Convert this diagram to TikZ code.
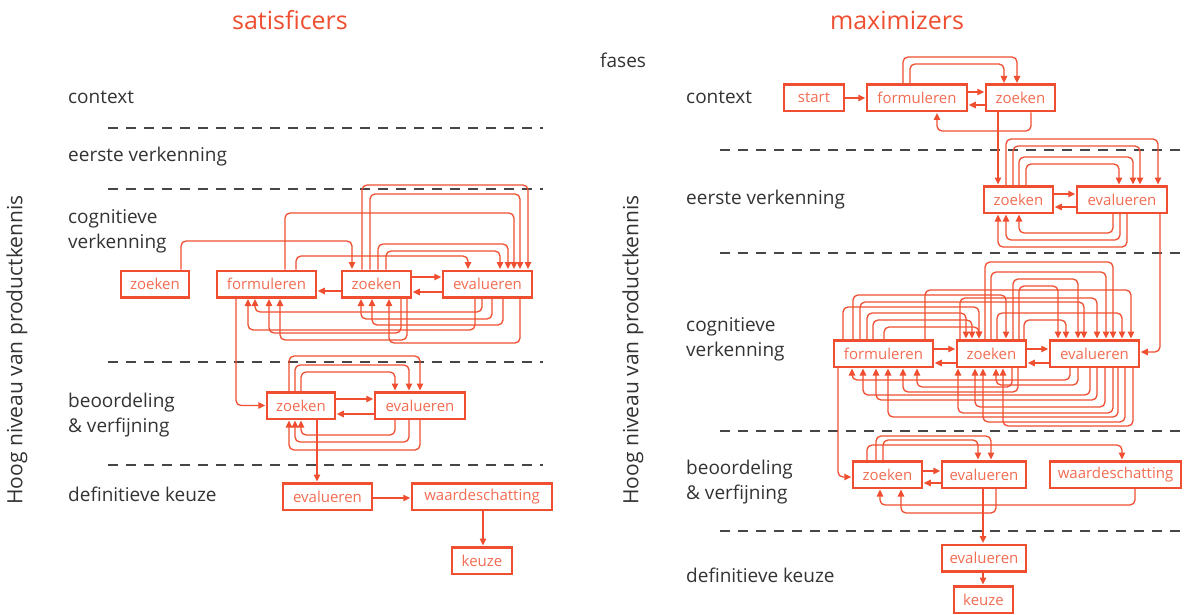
\documentclass[tikz,border=0pt]{standalone}
\usepackage{fontspec}
\setmainfont{Open Sans}
\usetikzlibrary{arrows.meta}
\definecolor{accent}{RGB}{239,78,48}
\definecolor{boxtext}{RGB}{242,108,82}
\definecolor{ink}{RGB}{51,51,51}
\definecolor{rulegrey}{RGB}{70,70,70}

% loop leaving the top (or bottom) of one box at x=#2, running at level #3,
% and entering the top (or bottom) of another box at x=#5
\newcommand\uploop[5]{\draw[link] (#2,0 |- #1.north) -- (#2,#3) -| (#5,0 |- #4.north);}
\newcommand\downloop[5]{\draw[link] (#2,0 |- #1.south) -- (#2,#3) -| (#5,0 |- #4.south);}

\tikzset{
  box/.style={draw=accent, line width=2.5pt, text=boxtext, minimum height=26.5pt,
    inner sep=0pt, font=\fontsize{15}{17}\selectfont},
  link/.style={draw=accent, line width=1.3pt, rounded corners=5pt,
    -{Triangle[length=7pt,width=6.5pt]}, shorten >=0.5pt},
  phase/.style={anchor=west, text=ink, align=left, inner sep=0pt,
    font=\fontsize{19}{25}\selectfont},
  paneltitle/.style={text=accent, inner sep=0pt, font=\fontsize{25}{30}\selectfont},
  axislabel/.style={text=ink, rotate=90, inner sep=0pt, font=\fontsize{21}{24}\selectfont},
  phaseline/.style={draw=rulegrey, line width=1.4pt, dash pattern=on 10pt off 8pt},
}

\begin{document}
\begin{tikzpicture}[x=1pt, y=-1pt]
\useasboundingbox (0,0) rectangle (1186,615);

% ---------------- satisficers ----------------
\node[paneltitle] (t1) at (290,20) {satisficers};
\node[axislabel] (a1) at (17,350) {Hoog niveau van productkennis};

\node[phase] (p1) at (68,97) {context};
\node[phase] (p2) at (68,157) {eerste verkenning};
\node[phase] (p3) at (68,231) {cognitieve\\verkenning};
\node[phase] (p4) at (68,415) {beoordeling\\\& verfijning};
\node[phase] (p5) at (68,494) {definitieve keuze};

\foreach \yy in {128,189,362,465}
  \draw[phaseline] (108,\yy) -- (543,\yy);

\node[box, minimum width=68pt]  (L1) at (155,284)   {zoeken};
\node[box, minimum width=99pt]  (L2) at (266.5,284) {formuleren};
\node[box, minimum width=69pt]  (L3) at (376.5,284) {zoeken};
\node[box, minimum width=89pt]  (L4) at (487.5,284) {evalueren};
\node[box, minimum width=68pt]  (L5) at (301,405.5) {zoeken};
\node[box, minimum width=90pt]  (L6) at (420,405.5) {evalueren};
\node[box, minimum width=89pt]  (L7) at (327.5,496.5) {evalueren};
\node[box, minimum width=140pt] (L8) at (482,496.5) {waardeschatting};
\node[box, minimum width=60pt]  (L9) at (482,560.5) {keuze};

% cognitive exploration
\uploop{L1}{181}{241}{L3}{352}
\uploop{L2}{285}{213}{L4}{514}
\uploop{L2}{296}{256}{L4}{468}
\uploop{L3}{362}{185}{L4}{528}
\uploop{L3}{370}{194}{L4}{520}
\uploop{L3}{378}{244}{L4}{508}
\uploop{L3}{386}{251}{L4}{500}
\draw[link] (L3.west |- 0,291) -- (L2.east |- 0,291);
\draw[link] (L3.east |- 0,277) -- (L4.west |- 0,277);
\draw[link] (L4.west |- 0,292) -- (L3.east |- 0,292);
\downloop{L4}{482}{312}{L2}{255}
\downloop{L4}{475}{330}{L2}{248}
\downloop{L3}{401}{333}{L2}{269}
\downloop{L3}{407}{340}{L2}{280}
\downloop{L4}{492}{319}{L3}{361}
\downloop{L4}{503}{325}{L3}{372}
\downloop{L4}{520}{343}{L3}{389}
\draw[link] (236,0 |- L2.south) |- (L5.west);

% judgement and refinement
\uploop{L5}{289}{356}{L6}{420}
\uploop{L5}{295}{365}{L6}{409}
\uploop{L5}{301}{372}{L6}{395}
\draw[link] (L5.east |- 0,399) -- (L6.west |- 0,399);
\draw[link] (L6.west |- 0,414) -- (L5.east |- 0,414);
\downloop{L6}{395}{435}{L5}{301}
\downloop{L6}{409}{442}{L5}{295}
\downloop{L6}{420}{450}{L5}{289}
\draw[link] (317,0 |- L5.south) -- (317,0 |- L7.north);

% final choice
\draw[link] (L7.east |- 0,498) -- (L8.west |- 0,498);
\draw[link] (483,0 |- L8.south) -- (483,0 |- L9.north);

% ---------------- maximizers ----------------
\node[paneltitle] (t2) at (897,20) {maximizers};
\node[axislabel] (a2) at (633,350) {Hoog niveau van productkennis};
\node[phase] (f0) at (600,60) {fases};

\node[phase] (q1) at (686,97) {context};
\node[phase] (q2) at (686,200) {eerste verkenning};
\node[phase] (q3) at (686,339) {cognitieve\\verkenning};
\node[phase] (q4) at (686,482) {beoordeling\\\& verfijning};
\node[phase] (q5) at (686,575) {definitieve keuze};

\foreach \yy in {150,253,431,531}
  \draw[phaseline] (720,\yy) -- (1186,\yy);

\node[box, minimum width=60pt]  (R1)  at (814,98)      {start};
\node[box, minimum width=100pt] (R2)  at (917,98)      {formuleren};
\node[box, minimum width=69pt]  (R3)  at (1020.5,98)   {zoeken};
\node[box, minimum width=69pt]  (R4)  at (1018.5,199.5) {zoeken};
\node[box, minimum width=90pt]  (R5)  at (1122,199.5)  {evalueren};
\node[box, minimum width=99pt]  (R6)  at (883.5,353.5) {formuleren};
\node[box, minimum width=69pt]  (R7)  at (991.5,353.5) {zoeken};
\node[box, minimum width=89pt]  (R8)  at (1094.5,353.5) {evalueren};
\node[box, minimum width=69pt]  (R9)  at (887.5,474.5) {zoeken};
\node[box, minimum width=84pt]  (R10) at (984,474.5)   {evalueren};
\node[box, minimum width=131pt] (R11) at (1115.5,474.5) {waardeschatting};
\node[box, minimum width=84pt]  (R12) at (984,558)     {evalueren};
\node[box, minimum width=59pt]  (R13) at (983.5,599.5) {keuze};

% context
\draw[link] (R1.east) -- (R2.west);
\draw[link] (R2.east |- 0,92) -- (R3.west |- 0,92);
\draw[link] (R3.west |- 0,105) -- (R2.east |- 0,105);
\uploop{R2}{903}{57}{R3}{1017}
\uploop{R2}{910}{64}{R3}{1004}
\downloop{R3}{1031}{131}{R2}{937}
\draw[link] (998,0 |- R3.south) -- (998,0 |- R4.north);

% first exploration
\draw[link] (R4.east |- 0,194) -- (R5.west |- 0,194);
\draw[link] (R5.west |- 0,207) -- (R4.east |- 0,207);
\uploop{R4}{1006}{139}{R5}{1158}
\uploop{R4}{1013}{146}{R5}{1140}
\uploop{R4}{1019}{157}{R5}{1133}
\uploop{R4}{1026}{164}{R5}{1119}
\downloop{R5}{1113}{233}{R4}{1019}
\downloop{R5}{1120}{240}{R4}{1006}
\downloop{R5}{1127}{247}{R4}{998}
\draw[link] (1160,0 |- R5.south) |- (R8.east |- 0,352);

% cognitive exploration
\draw[link] (R6.east |- 0,349) -- (R7.west |- 0,349);
\draw[link] (R7.west |- 0,363) -- (R6.east |- 0,363);
\draw[link] (R7.east |- 0,349) -- (R8.west |- 0,349);
\draw[link] (R8.west |- 0,363) -- (R7.east |- 0,363);
\uploop{R7}{985}{262}{R8}{1113}
\uploop{R7}{991}{272}{R8}{1106}
\uploop{R7}{1013}{279}{R8}{1078}
\uploop{R7}{1019}{286}{R8}{1058}
\uploop{R7}{960}{298}{R8}{1097}
\uploop{R7}{997}{313}{R8}{1122}
\uploop{R7}{1024}{320}{R8}{1066}
\uploop{R6}{925}{290}{R8}{1131}
\uploop{R6}{860}{302}{R8}{1084}
\uploop{R6}{853}{295}{R7}{1006}
\uploop{R6}{843}{307}{R7}{979}
\uploop{R6}{867}{313}{R7}{966}
\uploop{R6}{873}{320}{R7}{972}
\uploop{R6}{884}{327}{R7}{979}
\downloop{R8}{1070}{380}{R6}{852}
\downloop{R7}{1012}{387}{R6}{917}
\downloop{R7}{1018}{392}{R6}{903}
\downloop{R8}{1078}{385}{R7}{996}
\downloop{R8}{1090}{395}{R6}{863}
\downloop{R8}{1097}{400}{R6}{876}
\downloop{R8}{1105}{407}{R7}{975}
\downloop{R8}{1113}{413}{R7}{958}
\downloop{R8}{1118}{417}{R6}{888}
\downloop{R8}{1125}{422}{R7}{983}
\downloop{R8}{1133}{426}{R7}{1003}
\draw[link] (838,0 |- R6.south) |- (R9.west |- 0,477);

% judgement and refinement
\draw[link] (R9.east |- 0,471) -- (R10.west |- 0,471);
\draw[link] (R10.west |- 0,483) -- (R9.east |- 0,483);
\uploop{R9}{876}{436}{R10}{991}
\uploop{R9}{883}{440}{R10}{978}
\uploop{R9}{867}{445}{R11}{1122}
\downloop{R11}{1135}{505}{R9}{880}
\downloop{R10}{996}{513}{R9}{901}
\draw[link] (983,0 |- R10.south) -- (983,0 |- R12.north);

% final choice
\draw[link] (983,0 |- R12.south) -- (983,0 |- R13.north);
\end{tikzpicture}
\end{document}
